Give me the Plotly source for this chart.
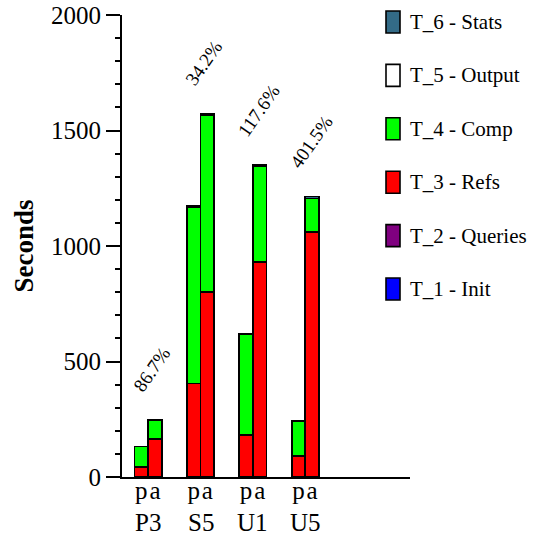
import plotly.graph_objects as go

# Benchmarks and the two variants measured for each
groups = ["P3", "S5", "U1", "U5"]
variants = ["p", "a"]

# Seconds per phase, listed as [P3, S5, U1, U5] for each variant
t1_init = {"p": [0, 0, 0, 0], "a": [0, 0, 0, 0]}
t2_queries = {"p": [0, 0, 0, 0], "a": [0, 0, 0, 0]}
t3_refs = {"p": [45, 405, 183, 92], "a": [164, 800, 930, 1060]}
t4_comp = {"p": [87, 765, 437, 150], "a": [82, 766, 415, 146]}
t5_output = {"p": [0, 0, 0, 0], "a": [0, 0, 0, 0]}
t6_stats = {"p": [0, 5, 0, 0], "a": [0, 8, 4, 8]}

# Slowdown of variant a relative to variant p
pct_labels = ["86.7%", "34.2%", "117.6%", "401.5%"]

series = [
    ("T_1 - Init", t1_init, "#0000ff"),
    ("T_2 - Queries", t2_queries, "#800080"),
    ("T_3 - Refs", t3_refs, "#ff0000"),
    ("T_4 - Comp", t4_comp, "#00ff00"),
    ("T_5 - Output", t5_output, "#ffffff"),
    ("T_6 - Stats", t6_stats, "#336b87"),
]

OFFSET = 0.13
BAR_W = 0.26
FONT = "Liberation Serif, Times New Roman, serif"

xs, tick_vals, tick_text = [], [], []
for gi, _ in enumerate(groups):
    for vi, v in enumerate(variants):
        pos = gi + (-OFFSET if vi == 0 else OFFSET)
        xs.append(pos)
        tick_vals.append(pos)
        tick_text.append(v)

fig = go.Figure()
for name, data, color in series:
    ys = []
    for gi in range(len(groups)):
        for v in variants:
            ys.append(data[v][gi])
    fig.add_trace(go.Bar(
        x=xs, y=ys, width=BAR_W, name=name, showlegend=False,
        marker=dict(color=color, line=dict(color="black", width=1.8)),
    ))

# Totals per bar for label placement
totals = []
for gi in range(len(groups)):
    row = []
    for v in variants:
        row.append(sum(d[v][gi] for _, d, _ in series))
    totals.append(row)

annotations = []
for gi, g in enumerate(groups):
    annotations.append(dict(
        x=gi, y=max(totals[gi]), xref="x", yref="y",
        text=pct_labels[gi], showarrow=False, textangle=-55,
        xanchor="left", yanchor="bottom", xshift=-22, yshift=22,
        font=dict(family=FONT, size=19, color="black"),
    ))
    annotations.append(dict(
        x=gi, y=0, xref="x", yref="y", text=g, showarrow=False,
        xanchor="center", yanchor="middle", yshift=-45,
        font=dict(family=FONT, size=25, color="black"),
    ))

# Legend drawn as swatches with text, top entry first
PLOT_L, PLOT_R, PLOT_T, PLOT_B = 122, 410, 15, 477
pw, ph = PLOT_R - PLOT_L, PLOT_B - PLOT_T
shapes = []
for i, (name, _, color) in enumerate(reversed(series)):
    cy = 22 + 53.4 * i
    shapes.append(dict(
        type="rect", xref="paper", yref="paper",
        x0=(386 - PLOT_L) / pw, x1=(400 - PLOT_L) / pw,
        y0=(PLOT_B - (cy + 11)) / ph, y1=(PLOT_B - (cy - 11)) / ph,
        fillcolor=color, line=dict(color="black", width=1.6),
    ))
    annotations.append(dict(
        x=(408 - PLOT_L) / pw, y=(PLOT_B - cy) / ph, xref="paper", yref="paper",
        text=name, showarrow=False, xanchor="left", yanchor="middle",
        font=dict(family=FONT, size=21, color="black"),
    ))

fig.update_layout(
    width=536, height=540,
    margin=dict(l=PLOT_L, r=536 - PLOT_R, t=PLOT_T, b=540 - PLOT_B, pad=0),
    barmode="stack",
    plot_bgcolor="white", paper_bgcolor="white",
    font=dict(family=FONT, color="black"),
    shapes=shapes, annotations=annotations,
    xaxis=dict(
        range=[-0.5, 5.0], tickmode="array", tickvals=tick_vals, ticktext=tick_text,
        ticks="", tickangle=0, showgrid=False, zeroline=False, showline=True,
        linecolor="black", linewidth=2, tickfont=dict(family=FONT, size=25),
        ticklabelstandoff=-10, automargin=False, fixedrange=True,
    ),
    yaxis=dict(
        range=[0, 2000], dtick=500, tick0=0, ticks="outside", ticklen=14,
        tickwidth=2, tickcolor="black", showgrid=False, zeroline=False,
        showline=True, linecolor="black", linewidth=2,
        tickfont=dict(family=FONT, size=25), automargin=False,
        minor=dict(dtick=100, ticks="outside", ticklen=5, tickwidth=1.5,
                   tickcolor="black", showgrid=False),
        title=dict(text="<b>Seconds</b>", font=dict(family=FONT, size=27), standoff=10),
        fixedrange=True,
    ),
)

fig.write_html("out.html")
